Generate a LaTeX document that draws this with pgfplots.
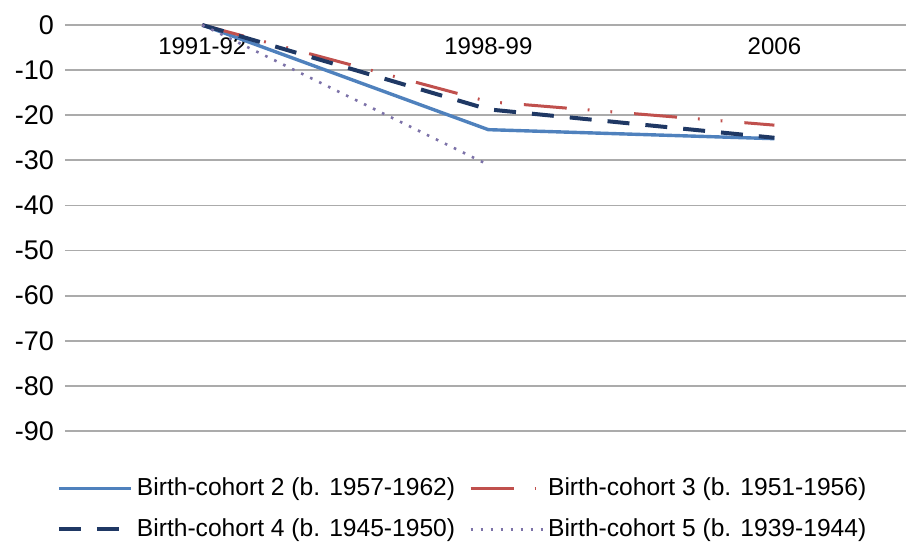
\documentclass[border=0pt]{standalone}
\usepackage{pgfplots}
\pgfplotsset{compat=1.18}
\usepackage{fontspec}
\setmainfont{Liberation Sans}
\definecolor{cblue}{HTML}{4F81BD}
\definecolor{cred}{HTML}{C0504D}
\definecolor{cnavy}{HTML}{1F3864}
\definecolor{cpurp}{HTML}{7C72A8}
\definecolor{gridc}{HTML}{ABABAB}
\begin{document}
\begin{tikzpicture}
\begin{axis}[
  scale only axis, width=420.5pt, height=203pt,
  xmin=-0.48, xmax=2.46, ymin=-90, ymax=0,
  xtick={0,1,2}, xticklabels={1991-92,1998-99,2006},
  xticklabel pos=upper,
  xticklabel style={anchor=north, yshift=-3pt, font=\fontsize{12}{14}\selectfont},
  ytick={-90,-80,...,0},
  yticklabel style={font=\fontsize{13.5}{15}\selectfont, xshift=-2pt},
  /pgf/number format/assume math mode=true,
  axis line style={draw=none},
  major tick length=0pt,
  xmajorgrids=false, ymajorgrids=true,
  major grid style={draw=gridc, line width=0.9pt},
  clip=false,
  legend style={at={(0.474,-0.105)}, anchor=north, draw=none, legend columns=2,
    font=\fontsize{12.3}{14}\selectfont, row sep=6pt, inner sep=0pt,
    /tikz/every even column/.append style={column sep=5pt}},
  legend image code/.code={\draw[#1] (0pt,0pt) -- (36pt,0pt);},
]
\addplot[cblue, line width=1.7pt] coordinates {(0,0) (1,-23.2) (2,-25.2)};
\addlegendentry{Birth-cohort 2 (b. 1957-1962)}
\addplot[cred, line width=1.5pt, dash pattern=on 21.5pt off 10.5pt on 0.9pt off 10.5pt on 0.9pt off 11pt] coordinates {(0,0) (1,-17) (2,-22.2)};
\addlegendentry{Birth-cohort 3 (b. 1951-1956)}
\addplot[cnavy, line width=2pt, dash pattern=on 11pt off 8pt] coordinates {(0,0) (1,-18.7) (2,-25)};
\addlegendentry{Birth-cohort 4 (b. 1945-1950)}
\addplot[cpurp, line width=1.3pt, dash pattern=on 1.3pt off 3.7pt] coordinates {(0,0) (1,-31)};
\addlegendentry{Birth-cohort 5 (b. 1939-1944)}
\coordinate (bl) at (rel axis cs:0,0);
\coordinate (tr) at (rel axis cs:1,1);
\end{axis}
\path (bl) ++(-32.5pt,-58.5pt) coordinate (a);
\path (tr) ++(0pt,12.5pt) coordinate (b);
\pgfresetboundingbox
\path[use as bounding box] (a) rectangle (b);
\end{tikzpicture}
\end{document}
